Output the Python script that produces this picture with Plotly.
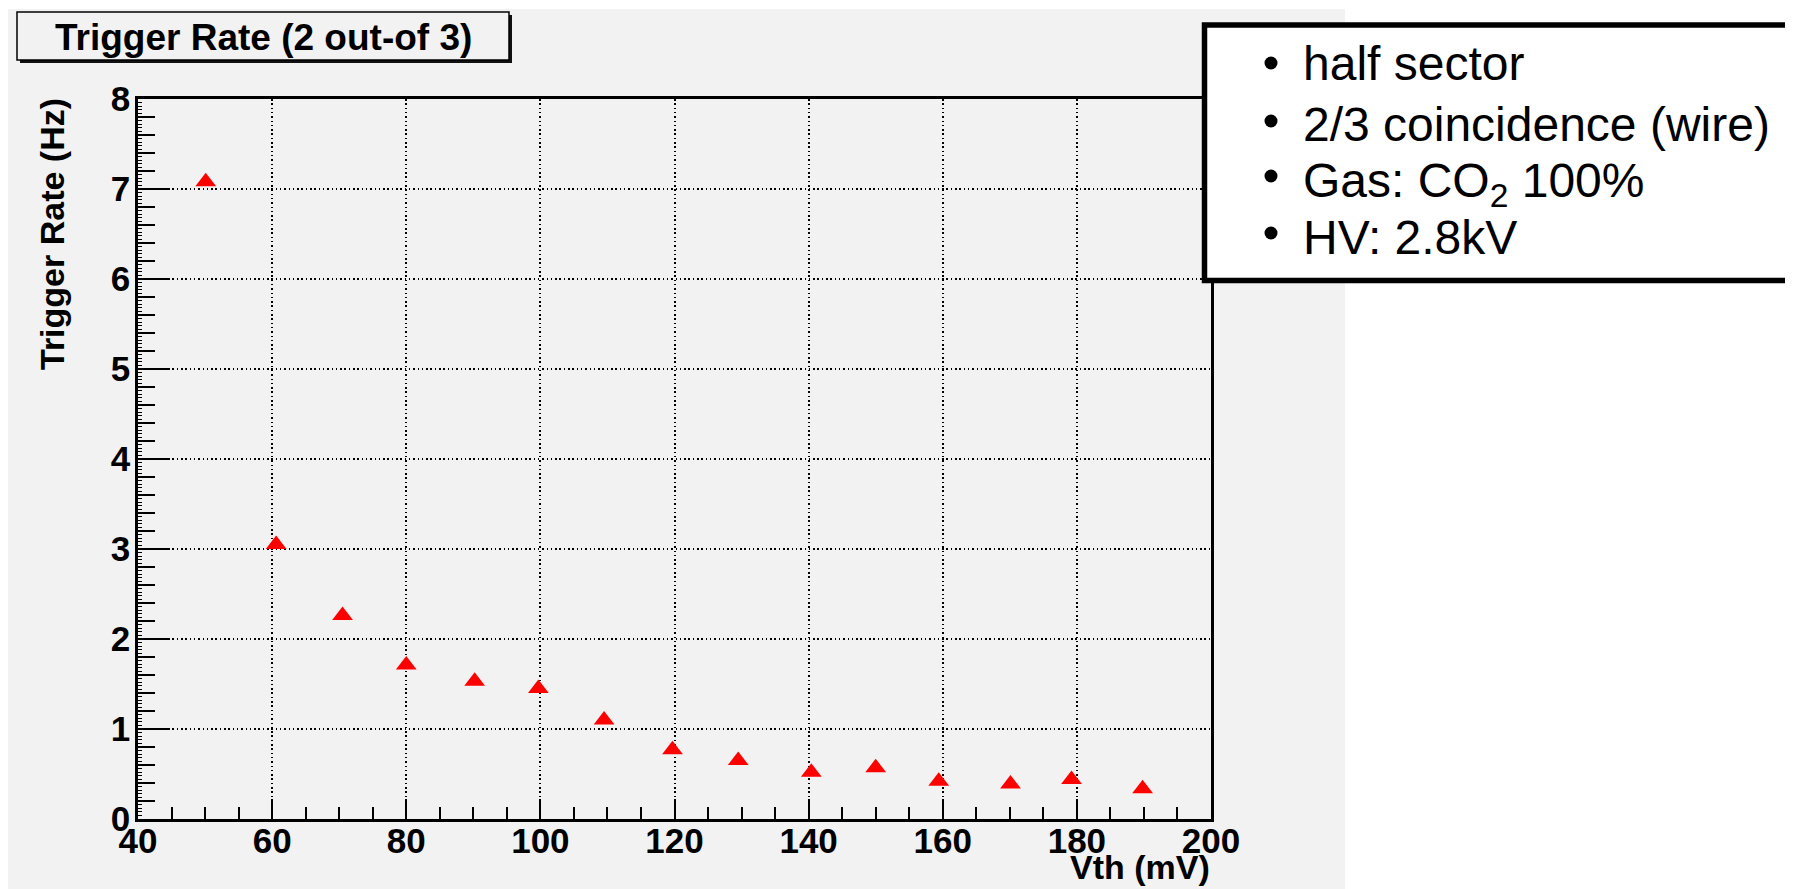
import plotly.graph_objects as go

# ---- data ----
vth_mV = [50.1, 60.6, 70.5, 80.0, 90.2, 99.7, 109.5, 119.7, 129.5, 140.4, 150.0, 159.4, 170.1, 179.2, 189.8]
rate_Hz = [7.08, 3.05, 2.26, 1.71, 1.53, 1.45, 1.10, 0.77, 0.65, 0.52, 0.57, 0.42, 0.39, 0.44, 0.335]
x_ticks = [40, 60, 80, 100, 120, 140, 160, 180, 200]
y_ticks = [0, 1, 2, 3, 4, 5, 6, 7, 8]
title_text = "Trigger Rate (2 out-of 3)"
x_title = "Vth (mV)"
y_title = "Trigger Rate (Hz)"
notes = ["half sector", "2/3 coincidence (wire)", "Gas: CO<sub>2</sub> 100%", "HV: 2.8kV"]

# page body has an 8px margin: work in reference-pixel coordinates and shift
OFF = 8
W, H = 1793 - OFF, 889 - OFF
L, R, T, B = 138, 1211, 99, 819  # plot area in reference pixels
FONT = "Liberation Sans, Arial, Helvetica, sans-serif"
GRAY = "#f2f2f2"


def xp(px):
    return (px - L) / (R - L)


def yp(py):
    return (B - py) / (B - T)


fig = go.Figure()
fig.add_trace(go.Scatter(
    x=vth_mV, y=rate_Hz, mode="markers",
    marker=dict(symbol="triangle-up", size=18, color="#ff0000", line=dict(width=0)),
    showlegend=False, hoverinfo="x+y",
))
# invisible trace to activate the fine-tick overlay axis
fig.add_trace(go.Scatter(x=[40], y=[0], yaxis="y2", mode="markers",
                         marker=dict(opacity=0), showlegend=False, hoverinfo="skip"))

tickfont = dict(family=FONT, size=35, color="black", weight="bold")

fig.update_layout(
    width=W, height=H,
    margin=dict(l=L - OFF, r=1793 - R, t=T - OFF, b=889 - B, pad=0),
    paper_bgcolor="white", plot_bgcolor=GRAY,
    xaxis=dict(
        range=[40, 200], tickmode="array", tickvals=x_ticks, ticktext=[str(v) for v in x_ticks],
        ticks="inside", ticklen=20, tickwidth=2, tickcolor="black",
        minor=dict(dtick=5, ticks="inside", ticklen=12, tickwidth=2, tickcolor="black", showgrid=False),
        showgrid=True, gridcolor="black", gridwidth=1.5, griddash="1.5px,2.8px",
        showline=True, linecolor="black", linewidth=2.5, mirror=True,
        tickfont=tickfont, ticklabelstandoff=-11, zeroline=False,
    ),
    yaxis=dict(
        range=[0, 8], tickmode="array", tickvals=y_ticks, ticktext=[str(v) for v in y_ticks],
        ticks="inside", ticklen=32, tickwidth=2, tickcolor="black",
        minor=dict(dtick=0.2, ticks="inside", ticklen=17, tickwidth=2, tickcolor="black", showgrid=False),
        showgrid=True, gridcolor="black", gridwidth=1.5, griddash="1.5px,2.8px",
        showline=True, linecolor="black", linewidth=2.5, mirror=True,
        tickfont=tickfont, ticklabelstandoff=-2, zeroline=False,
    ),
    yaxis2=dict(
        range=[0, 8], overlaying="y", side="left", dtick=0.04, tick0=0,
        ticks="inside", ticklen=4, tickwidth=1.2, tickcolor="black",
        showticklabels=False, showgrid=False, zeroline=False, showline=False,
    ),
)

shapes = []
# canvas gray area
shapes.append(dict(type="rect", xref="paper", yref="paper", layer="below",
                   x0=xp(0), x1=xp(1345), y0=yp(9), y1=yp(900),
                   fillcolor=GRAY, line=dict(width=0)))
# title box shadow + box
shapes.append(dict(type="rect", xref="paper", yref="paper", layer="above",
                   x0=xp(20), x1=xp(512), y0=yp(15), y1=yp(63),
                   fillcolor="#111111", line=dict(width=0)))
shapes.append(dict(type="rect", xref="paper", yref="paper", layer="above",
                   x0=xp(17), x1=xp(509), y0=yp(12), y1=yp(60),
                   fillcolor=GRAY, line=dict(color="black", width=1.5)))
# notes box
shapes.append(dict(type="rect", xref="paper", yref="paper", layer="above",
                   x0=xp(1204.5), x1=xp(1820), y0=yp(25), y1=yp(280.5),
                   fillcolor="white", line=dict(color="black", width=5.5)))
# bullets of the notes box
bullet_y = [63, 121, 176, 233]
for by in bullet_y:
    shapes.append(dict(type="circle", xref="paper", yref="paper", layer="above",
                       x0=xp(1271 - 6.5), x1=xp(1271 + 6.5), y0=yp(by - 6.5), y1=yp(by + 6.5),
                       fillcolor="black", line=dict(width=0)))
fig.update_layout(shapes=shapes)

ann = []
ann.append(dict(text=title_text, xref="paper", yref="paper", x=xp(263), y=yp(37),
                xanchor="center", yanchor="middle", showarrow=False,
                font=dict(family=FONT, size=37, color="black", weight="bold")))
ann.append(dict(text=x_title, xref="paper", yref="paper", x=xp(1212), y=yp(867),
                xanchor="right", yanchor="middle", showarrow=False,
                font=dict(family=FONT, size=34, color="black", weight="bold")))
ann.append(dict(text=y_title, xref="paper", yref="paper", x=xp(52), y=yp(234),
                xanchor="center", yanchor="middle", textangle=-90, showarrow=False,
                font=dict(family=FONT, size=34, color="black", weight="bold")))
centers = [64, 124, 184, 237]
for txt, cy in zip(notes, centers):
    ann.append(dict(text=txt, xref="paper", yref="paper", x=xp(1301), y=yp(cy),
                    xanchor="left", yanchor="middle", showarrow=False,
                    font=dict(family=FONT, size=48, color="black")))
fig.update_layout(annotations=ann)

fig.write_html("out.html")
